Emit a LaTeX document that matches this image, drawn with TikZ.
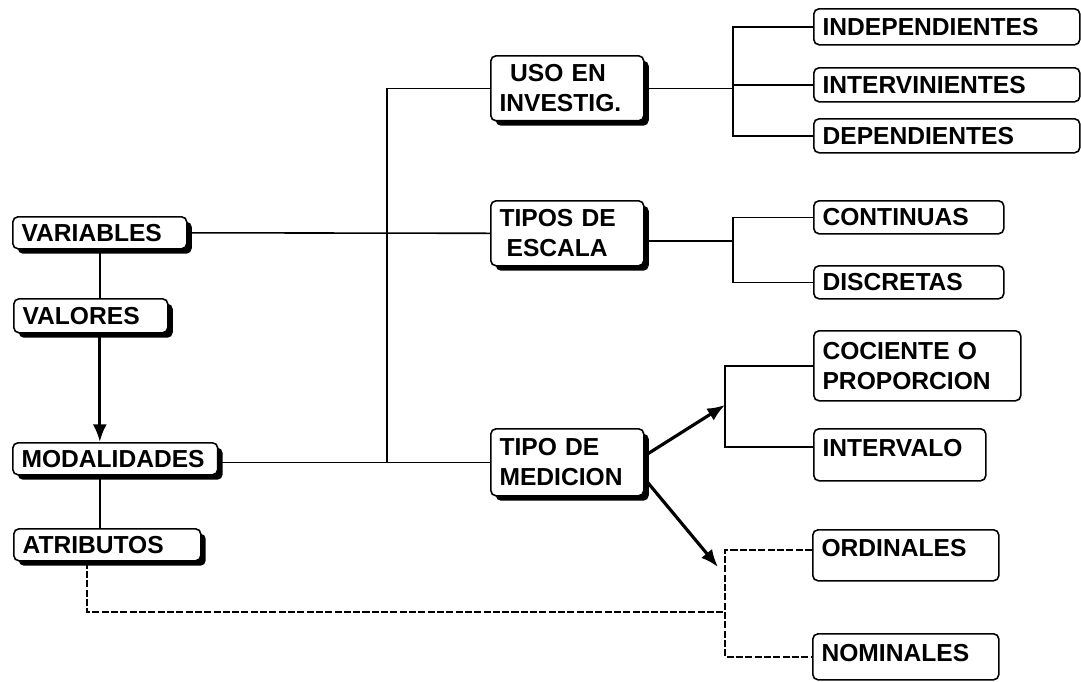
\documentclass[tikz,border=0pt]{standalone}
\usepackage{fontspec}
\setmainfont{Liberation Sans}
\usetikzlibrary{shadows, positioning, arrows.meta}
\tikzset{
    concept/.style = {draw, rounded corners=3pt, line width=0.9pt, fill=white,
        anchor=north west, align=left, inner xsep=5pt, inner ysep=3pt,
        font=\bfseries\fontsize{14}{17}\selectfont},
    shadebox/.style = {concept, drop shadow={shadow xshift=2.8pt, shadow yshift=-2.8pt, opacity=1, fill=black}},
    link/.style = {draw, line width=0.9pt},
    dashlink/.style = {link, dash pattern=on 4pt off 1.3pt},
    push/.style = {line width=1.8pt, -{Latex[length=10pt, width=8pt]}},
}

\begin{document}
\begin{tikzpicture}[x=0.02cm, y=-0.02cm]
            \useasboundingbox (0,0) rectangle (1081,681);
            % left column
            \node (var) [shadebox, minimum width=3.48cm, minimum height=0.64cm, text width=3.13cm] at (12,216) {VARIABLES};
            \node (val) [shadebox, minimum width=3.08cm, minimum height=0.68cm, text width=2.73cm] at (13,298) {VALORES};
            \node (mod) [shadebox, minimum width=4.10cm, minimum height=0.64cm, text width=3.75cm, inner xsep=2pt] at (12,442) {MODALIDADES};
            \node (atr) [shadebox, minimum width=3.74cm, minimum height=0.64cm, text width=3.39cm] at (13,528) {ATRIBUTOS};

            % middle column
            \node (uso) [shadebox, minimum width=3.06cm, minimum height=1.30cm, text width=2.71cm] at (490,55) {\hspace{6pt}USO EN\\INVESTIG.};
            \node (esc) [shadebox, minimum width=3.06cm, minimum height=1.30cm, text width=2.71cm] at (490,200) {TIPOS DE\\\hspace{4pt}ESCALA};
            \node (tm) [shadebox, minimum width=3.06cm, minimum height=1.34cm, text width=2.71cm] at (490,428) {TIPO DE\\MEDICION};

            % right column
            \node (ind) [concept, minimum width=5.32cm, minimum height=0.72cm, text width=4.97cm] at (813,8) {INDEPENDIENTES};
            \node (itv) [concept, minimum width=5.32cm, minimum height=0.68cm, text width=4.97cm] at (813,67) {INTERVINIENTES};
            \node (dep) [concept, minimum width=5.32cm, minimum height=0.68cm, text width=4.97cm] at (813,118) {DEPENDIENTES};
            \node (con) [concept, minimum width=3.80cm, minimum height=0.66cm, text width=3.45cm] at (813,200) {CONTINUAS};
            \node (dis) [concept, minimum width=3.80cm, minimum height=0.66cm, text width=3.45cm] at (813,265) {DISCRETAS};
            \node (coc) [concept, minimum width=4.14cm, minimum height=1.40cm, text width=3.79cm] at (813,330) {COCIENTE O\\PROPORCION};
            \node (inl) [concept, minimum width=3.44cm, minimum height=1.04cm, text width=3.09cm, text depth=8.2pt] at (813,428) {INTERVALO};
            \node (ord) [concept, minimum width=3.72cm, minimum height=1.02cm, text width=3.37cm, text depth=8.8pt] at (812,529) {ORDINALES};
            \node (nom) [concept, minimum width=3.72cm, minimum height=0.92cm, text width=3.37cm, text depth=4.8pt] at (812,633) {NOMINALES};

            \coordinate (jn) at (387,0);
            \coordinate (ub) at (733,0);
            \coordinate (cb) at (725,0);
            \coordinate (cq) at (725,405);
            \coordinate (oq) at (718,567);
            \coordinate (adash) at (87,612);
            \coordinate (ajoin) at (725,612);

            % left chain
            \draw[link] (var.south) -- (var.south |- val.north);
            \draw[push] (val.south -| var.south) -- (mod.north -| var.south);
            \draw[link] (mod.south -| var.south) -- (atr.north -| var.south);

            % to the middle
            \draw[link] (var.east) -- (esc.west);
            \draw[link] (tm.west -| mod.east) -- (tm.west);
            \draw[link] (uso.west) -| (tm.west -| jn);

            % brackets
            \draw[link] (uso.east) -- (uso.east -| ub);
            \draw[link] (ind.west) -- (ind.west -| ub) -- (dep.west -| ub) -- (dep.west);
            \draw[link] (itv.west) -- (itv.west -| ub);
            \draw[link] ([yshift=-4.5pt]esc.east) -- ([yshift=-4.5pt]esc.east -| ub);
            \draw[link] (con.west) -- (con.west -| ub) -- (dis.west -| ub) -- (dis.west);
            \draw[link] (coc.west) -- (coc.west -| cb) -- ([yshift=4.5pt]inl.west -| cb) -- ([yshift=4.5pt]inl.west);
            \draw[dashlink] ([yshift=3pt]ord.west) -- ([yshift=3pt]ord.west -| ajoin) -- (nom.west -| ajoin) -- (nom.west);

            % measurement arrows
            \draw[push] ([yshift=3.7pt]tm.east) -- (cq);
            \draw[push] ([yshift=-9.4pt]tm.east) -- (oq);

            % dashed return
            \draw[dashlink] (atr.south -| adash) -- (adash) -- (ajoin);
        \end{tikzpicture}
\end{document}
